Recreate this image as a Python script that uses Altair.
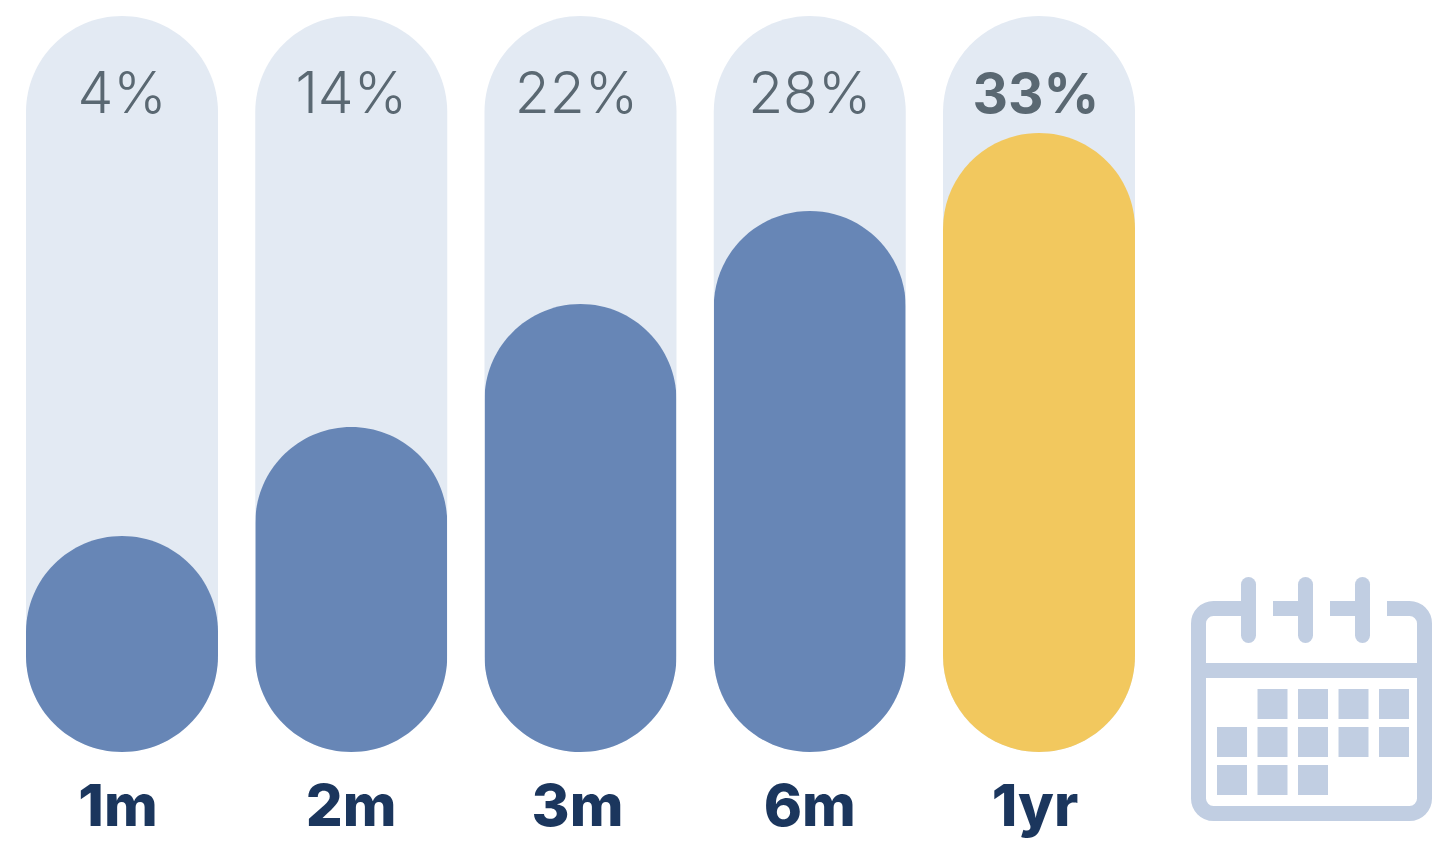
import altair as alt
import pandas as pd

# Share of accounts by time since start
periods = ["1m", "2m", "3m", "6m", "1yr"]
values = [4, 14, 22, 28, 33]
tones = ["base", "base", "base", "base", "peak"]
label_shift = [0, 0, -4, 0, -3]
period_shift = [-4, 0, -3, 0, -4]

# Calendar day squares
day_cols = [1, 2, 3, 4, 0, 1, 2, 3, 4, 0, 1, 2]
day_rows = [0, 0, 0, 0, 1, 1, 1, 1, 1, 2, 2, 2]
ring_slots = [0, 1, 2]

TRACK = "#e3eaf3"
BLUE = "#6786b6"
GOLD = "#f2c85e"
GREY = "#5a6872"
NAVY = "#1b365d"
ICON = "#c1cee2"
FONT = "Inter"

bars = pd.DataFrame({
    "period": periods,
    "value": values,
    "tone": tones,
    "pct": [f"{v}%" for v in values],
    "label_shift": label_shift,
    "period_shift": period_shift,
})
days = pd.DataFrame({"col": day_cols, "row": day_rows})
rings = pd.DataFrame({"slot": ring_slots})

x_band = alt.X(
    "period:N",
    axis=None,
    scale=alt.Scale(domain=periods, range=[26, 1135], paddingInner=0.1625, paddingOuter=0),
)
# The bars rise on a non-uniform value scale, so small shares keep a full pill shape.
y_value = alt.Y(
    "value:Q",
    axis=None,
    scale=alt.Scale(domain=[0] + values, range=[752, 536, 427, 304, 211, 133]),
)
pill = dict(cornerRadius=96)

track = alt.Chart(bars).mark_bar(color=TRACK, **pill).encode(
    x=x_band, y=alt.value(16), y2=alt.value(752)
)
fill = alt.Chart(bars).mark_bar(**pill).encode(
    x=x_band,
    y=y_value,
    color=alt.Color("tone:N", legend=None, scale=alt.Scale(domain=["base", "peak"], range=[BLUE, GOLD])),
)


def text_layer(base, field, shift, y, size, weight, color):
    # Offsets are measured from the start of the band; 96 puts a zero shift on its centre.
    return base.mark_text(
        font=FONT, fontSize=size, fontWeight=weight, color=color, baseline="alphabetic", align="center"
    ).encode(
        x=x_band,
        xOffset=alt.XOffset(f"{shift}:Q", scale=alt.Scale(domain=[-10, 10], range=[86, 106])),
        y=alt.value(y),
        text=f"{field}:N",
    )


plain = alt.Chart(bars[bars.tone == "base"])
peak = alt.Chart(bars[bars.tone == "peak"])
pct_plain = text_layer(plain, "pct", "label_shift", 113, 57, 300, GREY)
pct_peak = text_layer(peak, "pct", "label_shift", 113, 55, 700, GREY)
period_labels = text_layer(alt.Chart(bars), "period", "period_shift", 826, 58, 800, NAVY)

# Calendar icon
frame = alt.Chart(rings.head(1)).mark_rect(
    fillOpacity=0, stroke=ICON, strokeWidth=15, cornerRadius=15
).encode(x=alt.value(1198.5), x2=alt.value(1424.5), y=alt.value(608.5), y2=alt.value(813.5))
gaps = alt.Chart(rings).mark_tick(color="white", opacity=1, orient="vertical", thickness=17, height=20).encode(
    x=alt.X("slot:Q", axis=None, scale=alt.Scale(domain=[0, 2], range=[1264.5, 1378.5])),
    y=alt.value(608.5),
)
ring_marks = alt.Chart(rings).mark_rule(color=ICON, strokeWidth=15, strokeCap="round").encode(
    x=alt.X("slot:Q", axis=None, scale=alt.Scale(domain=[0, 2], range=[1248.5, 1362.5])),
    y=alt.value(584.5),
    y2=alt.value(635.5),
)
divider = alt.Chart(rings.head(1)).mark_rule(color=ICON, strokeWidth=15).encode(
    x=alt.value(1191), x2=alt.value(1432), y=alt.value(670.5)
)
day_marks = alt.Chart(days).mark_square(size=900, color=ICON, opacity=1).encode(
    x=alt.X("col:Q", axis=None, scale=alt.Scale(domain=[0, 4], range=[1232, 1394])),
    y=alt.Y("row:Q", axis=None, scale=alt.Scale(domain=[0, 2], range=[704, 780])),
)

chart = (
    alt.layer(track, fill, pct_plain, pct_peak, period_labels, frame, gaps, ring_marks, divider, day_marks)
    .resolve_scale(x="independent", y="independent", xOffset="independent", color="independent")
    .properties(width=1456, height=848, padding=0, autosize=alt.AutoSizeParams(type="none"), background="white")
    .configure_view(stroke=None)
)

chart.save("out.html", embed_options={"renderer": "svg", "actions": False})
